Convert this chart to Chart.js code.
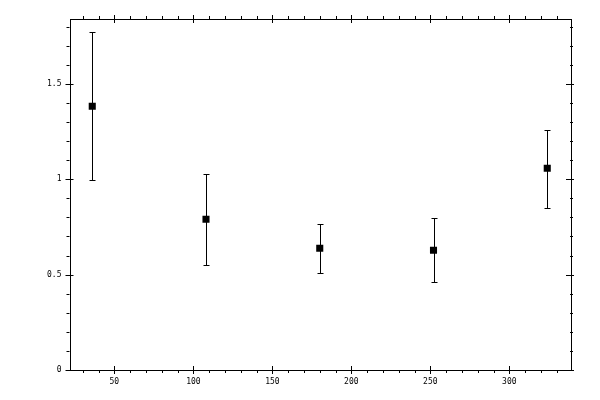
<!DOCTYPE html>
<html>
<head>
<meta charset="utf-8">
<script src="https://cdn.jsdelivr.net/npm/chart.js@4/dist/chart.umd.min.js"></script>
<style>
  html, body { margin: 0; padding: 0; background: #fff; }
  #chart { display: block; }
</style>
</head>
<body>
<canvas id="chart" width="600" height="400"></canvas>
<script>
// data
const xValues = [36, 108, 180, 252, 324];
const yValues = [1.383, 0.79, 0.638, 0.628, 1.058];
const yLower = [0.996, 0.549, 0.507, 0.46, 0.848];
const yUpper = [1.77, 1.029, 0.764, 0.795, 1.26];

const xRange = [21.6, 338.4];
const yRange = [0, 1.84];
const xMajorStep = 50;
const xMinorStep = 10;
const yMajorStep = 0.5;
const yMinorStep = 0.1;

const points = xValues.map((x, i) => ({ x, y: yValues[i] }));

// frame + ticks on all four sides, minor ticks outward, major ones crossing
const framePlugin = {
  id: "frame",
  afterDraw(chart) {
    const { ctx, chartArea: a, scales } = chart;
    const x = scales.x;
    const y = scales.y;
    ctx.save();
    ctx.strokeStyle = "#000";
    ctx.lineWidth = 1;
    ctx.strokeRect(Math.round(a.left) + 0.5, Math.round(a.top) + 0.5,
      Math.round(a.right - a.left), Math.round(a.bottom - a.top));

    ctx.beginPath();
    for (let v = Math.ceil(xRange[0] / xMinorStep) * xMinorStep; v <= xRange[1]; v += xMinorStep) {
      const px = Math.round(x.getPixelForValue(v)) + 0.5;
      const major = Math.abs(v / xMajorStep - Math.round(v / xMajorStep)) < 1e-6;
      const out = major ? 4 : 3;
      const inn = major ? 4 : 0;
      ctx.moveTo(px, a.bottom + out);
      ctx.lineTo(px, a.bottom - inn);
      ctx.moveTo(px, a.top - out);
      ctx.lineTo(px, a.top + inn);
    }
    for (let v = yRange[0]; v <= yRange[1] + 1e-9; v += yMinorStep) {
      const py = Math.round(y.getPixelForValue(v)) + 0.5;
      const major = Math.abs(v / yMajorStep - Math.round(v / yMajorStep)) < 1e-6;
      const out = major ? 4 : 3;
      const inn = major ? 4 : 0;
      ctx.moveTo(a.left - out, py);
      ctx.lineTo(a.left + inn, py);
      ctx.moveTo(a.right + out, py);
      ctx.lineTo(a.right - inn, py);
    }
    ctx.stroke();
    ctx.restore();
  }
};

// vertical error bars with small caps, drawn under the markers
const errorBarPlugin = {
  id: "errorBars",
  beforeDatasetsDraw(chart) {
    const { ctx, scales } = chart;
    ctx.save();
    ctx.strokeStyle = "#000";
    ctx.lineWidth = 1;
    ctx.beginPath();
    xValues.forEach((xv, i) => {
      const px = Math.round(scales.x.getPixelForValue(xv)) + 0.5;
      const top = Math.round(scales.y.getPixelForValue(yUpper[i])) + 0.5;
      const bot = Math.round(scales.y.getPixelForValue(yLower[i])) + 0.5;
      ctx.moveTo(px, top);
      ctx.lineTo(px, bot);
      ctx.moveTo(px - 3, top);
      ctx.lineTo(px + 3, top);
      ctx.moveTo(px - 3, bot);
      ctx.lineTo(px + 3, bot);
    });
    ctx.stroke();
    ctx.restore();
  }
};

const tickFont = { family: "'DejaVu Sans Mono', monospace", size: 8 };
const plainNumber = (v) => String(+Number(v).toFixed(2));

new Chart(document.getElementById("chart").getContext("2d"), {
  type: "scatter",
  data: {
    datasets: [
      {
        data: points,
        pointStyle: "rect",
        pointRadius: 5,
        pointHoverRadius: 5,
        backgroundColor: "#000",
        borderColor: "#000",
        borderWidth: 0,
      },
    ],
  },
  options: {
    responsive: false,
    animation: false,
    devicePixelRatio: 1,
    layout: { padding: { left: 0, right: 30, top: 19, bottom: 0 } },
    plugins: {
      legend: { display: false },
      tooltip: { enabled: false },
    },
    scales: {
      x: {
        type: "linear",
        min: xRange[0],
        max: xRange[1],
        border: { display: false },
        grid: { display: false, drawTicks: false },
        ticks: {
          stepSize: xMajorStep,
          includeBounds: false,
          maxRotation: 0,
          padding: 7,
          color: "#000",
          font: tickFont,
          callback: plainNumber,
        },
        afterFit(scale) { scale.height = 30; },
      },
      y: {
        type: "linear",
        min: yRange[0],
        max: yRange[1],
        border: { display: false },
        grid: { display: false, drawTicks: false },
        ticks: {
          stepSize: yMajorStep,
          includeBounds: false,
          padding: 8,
          color: "#000",
          font: tickFont,
          callback: plainNumber,
        },
        afterFit(scale) { scale.width = 69.5; },
      },
    },
  },
  plugins: [errorBarPlugin, framePlugin],
});
</script>
</body>
</html>
